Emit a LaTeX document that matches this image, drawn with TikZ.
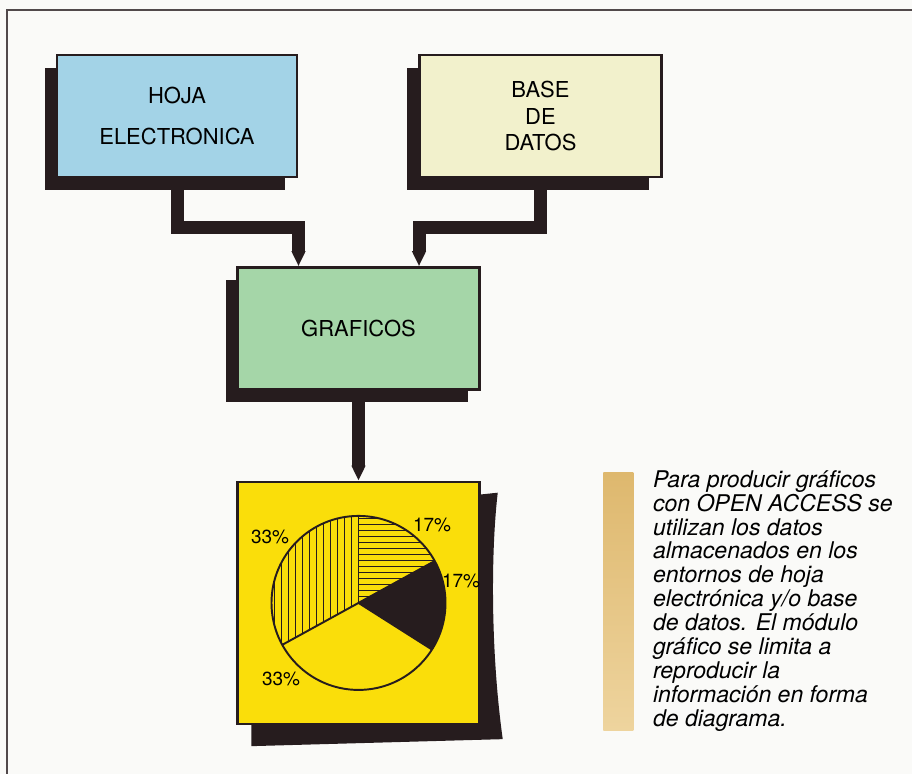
\documentclass[tikz,border=0pt]{standalone}
\usepackage{fontspec}
\setmainfont{TeX Gyre Heros}
\usepackage{tikz}
\usetikzlibrary{arrows.meta, positioning, calc, shadows, backgrounds}
\definecolor{hojacolor}{RGB}{163,211,231}
\definecolor{basecolor}{RGB}{242,241,204}
\definecolor{grafcolor}{RGB}{165,214,168}
\definecolor{chartcolor}{RGB}{250,222,10}
\definecolor{inkcolor}{RGB}{38,28,30}
\definecolor{barcolorA}{RGB}{222,184,110}
\definecolor{barcolorB}{RGB}{238,212,158}
\definecolor{papercolor}{RGB}{250,250,248}

\begin{document}
\begin{tikzpicture}[
    node distance=2.4cm and 2.4cm,
    panel/.style={rectangle, draw=inkcolor, line width=1.4pt, minimum width=4.84cm, minimum height=2.44cm, align=center, font=\fontsize{12.5}{14.8}\selectfont},
    box/.style={panel, drop shadow={shadow xshift=-0.24cm, shadow yshift=-0.26cm, fill=inkcolor, opacity=1}},
    link/.style={line width=0.26cm, draw=inkcolor, -{Triangle[length=0.3cm, width=0pt 1]}},
    hatch/.style={line width=0.6pt, draw=inkcolor},
    rim/.style={line width=1.1pt, draw=inkcolor},
    pct/.style={font=\fontsize{10.8}{12}\selectfont, inner sep=0pt}
]
\useasboundingbox (0,0) rectangle (18.24,-15.48);

\node (hoja) [box, fill=hojacolor, minimum width=4.8cm] at (3.54,-2.32) {HOJA\\[0.3cm]ELECTRONICA};
\node (base) [box, fill=basecolor, right=of hoja] {BASE\\DE\\DATOS};
\node (graficos) [box, fill=grafcolor, below=1.76cm of hoja, xshift=3.63cm] {GRAFICOS};
\node (chart) [panel, fill=chartcolor, minimum height=4.84cm, below=1.8cm of graficos] {};

\draw [link] (hoja.south) -- ++(0,-0.99) -| ($(graficos.north)+(-1.2,0)$);
\draw [link] (base.south) -- ++(0,-0.98) -| ($(graficos.north)+(1.21,0)$);
\draw [link] (graficos.south) -- (chart.north);

% pie chart
\coordinate (pie) at (chart.center);
\fill[inkcolor] (pie) -- ++(-32.4:1.74) arc[start angle=-32.4, end angle=28.8, radius=1.74] -- cycle;
\begin{scope}
  \clip (pie) -- ++(90:1.74) arc[start angle=90, end angle=208.8, radius=1.74] -- cycle;
  \foreach \k in {1,...,25} \draw[hatch] ($(pie)+(-0.14*\k,-1.8)$) -- ++(0,3.6);
\end{scope}
\begin{scope}
  \clip (pie) -- ++(28.8:1.74) arc[start angle=28.8, end angle=90, radius=1.74] -- cycle;
  \foreach \k in {1,...,15} \draw[hatch] ($(pie)+(-0.1,0.12*\k)$) -- ++(2,0);
\end{scope}
\draw[rim] (pie) circle[radius=1.74];
\foreach \a in {90,208.8,327.6,28.8} \draw[rim] (pie) -- ++(\a:1.74);

\node (pa) [pct] at ($(pie)+(-1.77,1.32)$) {33\%};
\node (pb) [pct] at ($(pie)+(1.47,1.56)$) {17\%};
\node (pc) [pct] at ($(pie)+(2.05,0.44)$) {17\%};
\node (pd) [pct] at ($(pie)+(-1.55,-1.52)$) {33\%};

% caption
\node (bar) [anchor=north west, minimum width=0.6cm, minimum height=5.16cm, inner sep=0pt, top color=barcolorA, bottom color=barcolorB] at (12.06,-9.44) {};
\node (caption) [anchor=north west, inner sep=0pt, align=left, font=\itshape\fontsize{13.1}{13.6}\selectfont] at ($(bar.north east)+(0.38,0.04)$) {Para producir gráficos\\con OPEN ACCESS se\\utilizan los datos\\almacenados en los\\entornos de hoja\\electrónica y/o base\\de datos. El módulo\\gráfico se limita a\\reproducir la\\información en forma\\de diagrama.};

\draw[line width=0.8pt, draw=inkcolor!80] (0.14,-15.48) -- (0.14,-0.2) -- (18.24,-0.2);

\begin{scope}[on background layer]
  \fill[papercolor] (0,0) rectangle (18.24,-15.48);
  \fill[inkcolor] ($(chart.south west)+(0.3,0.04)$) -- ++(0,-0.46) -- ($(chart.south east)+(0.44,-0.28)$)
    .. controls ($(chart.east)+(0.2,-1)$) and ($(chart.east)+(0.2,1)$) .. ($(chart.north east)+(0.34,-0.24)$)
    -- ($(chart.north east)+(-0.04,-0.28)$) -- cycle;
\end{scope}
\end{tikzpicture}
\end{document}
